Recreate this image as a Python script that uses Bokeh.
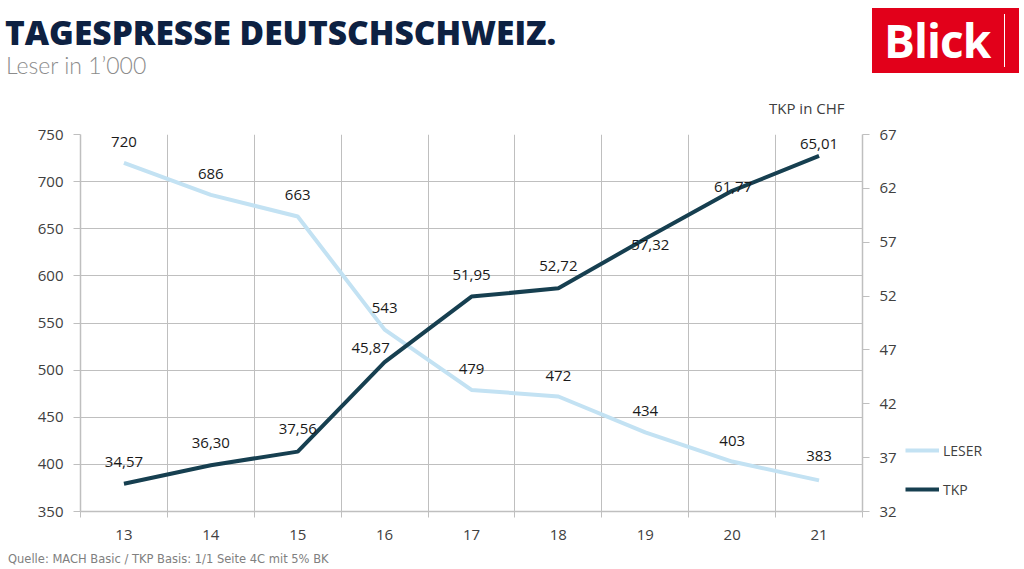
from bokeh.plotting import figure
from bokeh.layouts import column, row
from bokeh.models import (Range1d, LinearAxis, FixedTicker, Legend, LegendItem,
                          ColumnDataSource, Div)
from bokeh.core.properties import value
from bokeh.embed import file_html
from bokeh.resources import INLINE

# ---- data ----
years = [13, 14, 15, 16, 17, 18, 19, 20, 21]
leser = [720, 686, 663, 543, 479, 472, 434, 403, 383]
tkp = [34.57, 36.30, 37.56, 45.87, 51.95, 52.72, 57.32, 61.77, 65.01]
left_ticks = [350, 400, 450, 500, 550, 600, 650, 700, 750]
right_ticks = [32, 37, 42, 47, 52, 57, 62, 67]
series_names = ["LESER", "TKP"]

title_text = "TAGESPRESSE DEUTSCHSCHWEIZ."
subtitle_text = "Leser in 1’000"
right_axis_title = "TKP in CHF"
source_text = "Quelle: MACH Basic / TKP Basis: 1/1 Seite 4C mit 5% BK"

# label placement (style, pixels)
leser_dx = [0, 0, 0, 0, 0, 0, 0, 0, 0]
leser_dy = [-21, -21, -21, -22, -21, -21, -21, -21, -24]
tkp_dx = [0, 0, 0, -14, 0, 0, 5, 1, 0]
tkp_dy = [-22, -22, -23, -14, -22, -22, 6, -4, -12]

LESER_COL = "#c3e2f3"
TKP_COL = "#163f50"
GRID = "#bfbfbf"
TXT = "#404040"
FONT = "Open Sans"

W = 1008
H_HEAD, H_FOOT = 122, 18
MAIN_W = 900


def absdiv(left, top, css, text):
    return (f"<div style=\"position:absolute;left:{left}px;top:{top}px;"
            f"white-space:nowrap;{css}\">{text}</div>")


# ---- header ----
head_html = (
    f"<div style=\"position:relative;width:{W}px;height:{H_HEAD}px;\">"
    + absdiv(5, 15, "font-family:'Open Sans';font-weight:800;font-size:33.5px;"
             "line-height:34px;color:#0d2142;", title_text)
    + absdiv(6, 55, "font-family:'Lato';font-weight:300;font-size:23px;"
             "line-height:20px;color:#8c8c8c;", subtitle_text)
    + absdiv(769, 99, f"font-family:'Open Sans';font-size:15px;line-height:18px;"
             f"color:{TXT};", right_axis_title)
    + absdiv(872, 8, "width:147px;height:65px;background:#e2001a;", "")
    + absdiv(884, 8, "font-family:'Open Sans';font-weight:700;font-size:46px;"
             "line-height:65px;color:#ffffff;letter-spacing:-1px;", "Blick")
    + absdiv(1004, 14, "width:1px;height:53px;background:#ffffff;", "")
    + "</div>"
)
head = Div(text=head_html, width=W, height=H_HEAD, margin=0)

# ---- main chart ----
p = figure(frame_width=782, frame_height=377, output_backend="svg", toolbar_location=None,
           x_range=Range1d(12.5, 21.5), y_range=Range1d(350, 750),
           min_border_left=80, min_border_right=MAIN_W - 862, min_border_top=12,
           min_border_bottom=37, outline_line_color=None, margin=0)
p.extra_y_ranges = {"tkp": Range1d(32, 67)}

bounds = [y - 0.5 for y in years] + [years[-1] + 0.5]
p.xaxis.ticker = FixedTicker(ticks=years, minor_ticks=bounds)
p.xaxis.major_tick_out = 0
p.xaxis.major_tick_in = 0
p.xaxis.minor_tick_out = 6
p.xaxis.minor_tick_in = 0
p.xaxis.minor_tick_line_color = GRID
p.xaxis.axis_line_color = GRID
p.xaxis.axis_line_width = 1.5
p.xaxis.major_label_standoff = 12
p.xaxis.major_label_text_font = FONT
p.xaxis.major_label_text_font_size = "15px"
p.xaxis.major_label_text_color = TXT

p.yaxis.ticker = FixedTicker(ticks=left_ticks)
p.yaxis.major_tick_out = 7
p.yaxis.major_tick_in = 0
p.yaxis.minor_tick_out = 0
p.yaxis.minor_tick_in = 0
p.yaxis.major_tick_line_color = GRID
p.yaxis.axis_line_color = GRID
p.yaxis.axis_line_width = 1.5
p.yaxis.major_label_standoff = 10
p.yaxis.major_label_text_font = FONT
p.yaxis.major_label_text_font_size = "15px"
p.yaxis.major_label_text_color = TXT

raxis = LinearAxis(y_range_name="tkp", ticker=FixedTicker(ticks=right_ticks),
                   major_tick_out=7, major_tick_in=0, minor_tick_out=0, minor_tick_in=0,
                   major_tick_line_color=GRID, axis_line_color=GRID, axis_line_width=1.5,
                   major_label_standoff=10, major_label_text_font=FONT,
                   major_label_text_font_size="15px", major_label_text_color=TXT)
p.add_layout(raxis, "right")

p.xgrid.ticker = FixedTicker(ticks=bounds)
p.xgrid.grid_line_color = GRID
p.ygrid.ticker = FixedTicker(ticks=left_ticks)
p.ygrid.grid_line_color = GRID

src = ColumnDataSource(dict(
    x=years, leser=leser, tkp=tkp,
    leser_lbl=[str(v) for v in leser],
    tkp_lbl=[f"{v:.2f}".replace(".", ",") for v in tkp],
    ldx=leser_dx, ldy=leser_dy, tdx=tkp_dx, tdy=tkp_dy,
))

p.line("x", "leser", source=src, line_color=LESER_COL, line_width=4)
p.line("x", "tkp", source=src, line_color=TKP_COL, line_width=4, y_range_name="tkp")

p.text("x", "leser", text="leser_lbl", source=src, x_offset="ldx", y_offset="ldy",
       text_align="center", text_baseline="middle", text_font=value(FONT),
       text_font_size="15px", text_color="#1a1a1a")
p.text("x", "tkp", text="tkp_lbl", source=src, x_offset="tdx", y_offset="tdy",
       y_range_name="tkp",
       text_align="center", text_baseline="middle", text_font=value(FONT),
       text_font_size="15px", text_color="#1a1a1a")

# ---- legend panel (small figure to the right; its lines lie outside its view,
#      only the legend swatches show) ----
lg = figure(frame_width=W - MAIN_W, frame_height=377, output_backend="svg",
            toolbar_location=None, x_range=Range1d(0, 1), y_range=Range1d(0, 1),
            min_border_left=0, min_border_right=0, min_border_top=12,
            min_border_bottom=37, outline_line_color=None, margin=0)
lg.axis.visible = False
lg.grid.visible = False
k1 = lg.line("x", "leser", source=src, line_color=LESER_COL, line_width=4)
k2 = lg.line("x", "tkp", source=src, line_color=TKP_COL, line_width=4)
legend = Legend(items=[LegendItem(label=series_names[0], renderers=[k1]),
                       LegendItem(label=series_names[1], renderers=[k2])],
                location=(5, 12), glyph_width=34, glyph_height=20,
                label_standoff=4, spacing=19, padding=0, margin=0,
                label_text_font=FONT, label_text_font_size="14px", label_text_color=TXT,
                background_fill_alpha=0, border_line_color=None)
lg.add_layout(legend, "center")

# ---- footer ----
foot_html = (
    f"<div style=\"position:relative;width:{W}px;height:{H_FOOT}px;\">"
    + absdiv(8, 4, "font-family:'DejaVu Sans';font-size:11.5px;line-height:14px;"
             "color:#808080;", source_text)
    + "</div>"
)
foot = Div(text=foot_html, width=W, height=H_FOOT, margin=0)

layout = column(head, row(p, lg, spacing=0), foot, spacing=0)
open("out.html", "w").write(file_html(layout, INLINE))
